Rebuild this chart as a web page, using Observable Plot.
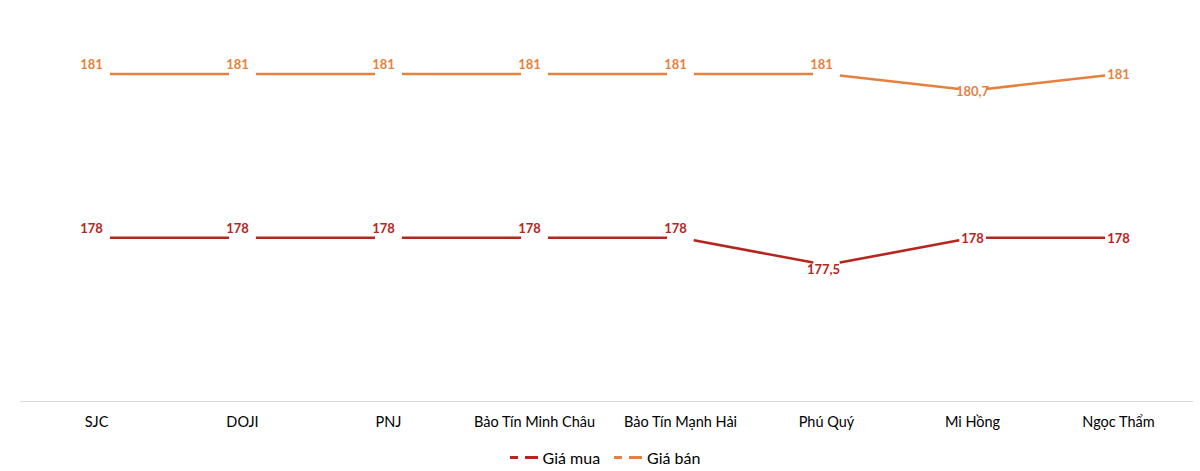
<!DOCTYPE html>
<html>
<head>
<meta charset="utf-8">
<script src="https://cdn.jsdelivr.net/npm/d3@7"></script>
<script src="https://cdn.jsdelivr.net/npm/@observablehq/plot@0.6"></script>
<style>
  html, body { margin: 0; padding: 0; background: #fff; }
  body { width: 1200px; height: 471px; overflow: hidden; font-family: Lato, "Open Sans", sans-serif; }
  #legend { display: flex; justify-content: center; align-items: center; gap: 14px; font-size: 16px; color: #000; height: 33px; margin-top: 3px; margin-left: 10px; }
  .item { display: flex; align-items: center; }
  .sw { display: inline-block; width: 30px; height: 3px; margin-right: 3px; }
</style>
</head>
<body>
<div id="chart"></div>
<div id="legend"></div>
<script>
const categories = ["SJC", "DOJI", "PNJ", "Bảo Tín Minh Châu", "Bảo Tín Mạnh Hải", "Phú Quý", "Mi Hồng", "Ngọc Thẩm"];
const giaMua = [178, 178, 178, 178, 178, 177.5, 178, 178];
const giaBan = [181, 181, 181, 181, 181, 181, 180.7, 181];
const seriesNames = ["Giá mua", "Giá bán"];
const seriesColors = ["#B5261E", "#E5813E"];

const rows = [];
categories.forEach((c, i) => {
  rows.push({cat: c, i, series: seriesNames[0], value: giaMua[i]});
  rows.push({cat: c, i, series: seriesNames[1], value: giaBan[i]});
});
const fmt = v => String(v).replace(".", ",");
const color = s => seriesColors[seriesNames.indexOf(s)];

// label placement rule: labels on the flat part sit slightly above the point
const above = d => d.i < 5 || (d.i === 5 && d.series === seriesNames[1]);
const below = d => d.i === 5 && d.series === seriesNames[0];
const onPoint = d => d.i > 5;

const textOpts = {
  x: "cat", y: "value", text: d => fmt(d.value),
  fill: d => color(d.series), fontWeight: "bold", fontSize: 13,
  fontFamily: "Lato, sans-serif"
};

const chart = Plot.plot({
  width: 1200,
  height: 438,
  marginLeft: 20,
  marginRight: 7,
  marginTop: 19,
  marginBottom: 37,
  x: {type: "point", domain: categories, padding: 0.5, label: null, tickSize: 0, tickPadding: 15},
  y: {domain: [175, 182], axis: null},
  style: {fontFamily: "Lato, sans-serif", fontSize: "14.5px", color: "#000", background: "#fff"},
  marks: [
    Plot.ruleY([175], {stroke: "#d9d9d9", strokeWidth: 1.2}),
    Plot.line(rows, {x: "cat", y: "value", z: "series", stroke: d => color(d.series), strokeWidth: 2.6}),
    Plot.dot(rows, {x: "cat", y: "value", r: 13.5, fill: "#fff", stroke: null}),
    Plot.text(rows.filter(above), {...textOpts, dx: -5, dy: -9}),
    Plot.text(rows.filter(below), {...textOpts, dx: -3, dy: 5}),
    Plot.text(rows.filter(onPoint), {...textOpts, dx: 0, dy: 1})
  ]
});
document.getElementById("chart").appendChild(chart);

const legend = document.getElementById("legend");
seriesNames.forEach((s, k) => {
  const item = document.createElement("span");
  item.className = "item";
  const sw = document.createElement("span");
  sw.className = "sw";
  sw.style.background = `linear-gradient(to right, ${seriesColors[k]} 0 8px, transparent 8px 15px, ${seriesColors[k]} 15px 28px, transparent 28px)`;
  item.appendChild(sw);
  item.appendChild(document.createTextNode(s));
  legend.appendChild(item);
});
</script>
</body>
</html>
